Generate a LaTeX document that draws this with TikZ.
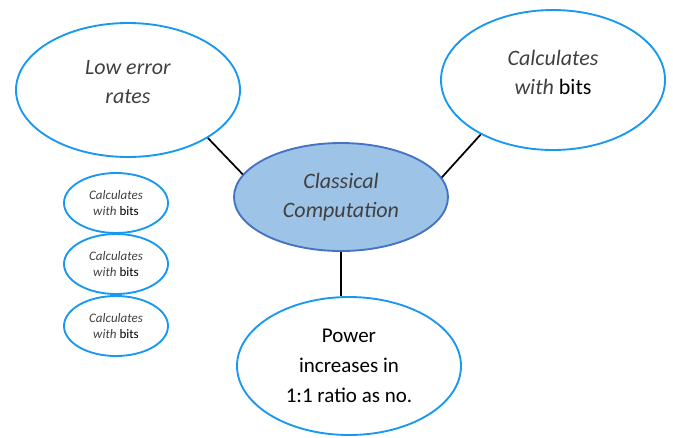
\documentclass[tikz,border=0pt]{standalone}
\usepackage{fontspec}
\setmainfont{Carlito}
\usetikzlibrary{shapes.geometric}
\definecolor{bubbleblue}{RGB}{24,152,240}
\definecolor{corefill}{RGB}{157,195,230}
\definecolor{coreline}{RGB}{68,114,196}
\definecolor{greytext}{RGB}{64,64,64}
\tikzset{
	bubble/.style={ellipse,draw=bubbleblue,line width=1.4pt,inner sep=0pt,align=center,text=greytext},
	bigtext/.style={font=\fontsize{16.5}{21.75}\selectfont},
	smalltext/.style={font=\fontsize{9.75}{12.5}\selectfont},
	link/.style={line width=1.3pt},
}
\begin{document}
\begin{tikzpicture}[x=0.75pt,y=-0.75pt]
\useasboundingbox (0,0) rectangle (673,437);
\draw (128,90)node[bubble,bigtext,text depth=12pt,minimum width=168pt,minimum height=100.5pt](low){\textit{Low error}\\\textit{rates}};
\draw (553,80)node[bubble,bigtext,text depth=12pt,minimum width=168pt,minimum height=105pt](bits){\textit{Calculates}\\\textit{with} {\color{black}bits}};
\draw (341,197)node[bubble,bigtext,draw=coreline,fill=corefill,minimum width=160.5pt,minimum height=81pt](core){\textit{Classical}\\\textit{Computation}};
\draw (349,366)node[bubble,font=\fontsize{15.75}{22.5}\selectfont,text=black,minimum width=168pt,minimum height=103.5pt](power){Power\\increases in\\1:1 ratio as no.};
\draw (116,203)node[bubble,smalltext,minimum width=78pt,minimum height=45pt](bitsa){\textit{Calculates}\\\textit{with} {\color{black}bits}};
\draw (116,264)node[bubble,smalltext,minimum width=78pt,minimum height=45pt](bitsb){\textit{Calculates}\\\textit{with} {\color{black}bits}};
\draw (116,326)node[bubble,smalltext,minimum width=78pt,minimum height=45pt](bitsc){\textit{Calculates}\\\textit{with} {\color{black}bits}};
\draw[link] (low.-31) -- (core.167);
\draw[link] (bits.-143) -- (core.11);
\draw[link] (core.south) -- (core.south |- power.north);
\end{tikzpicture}
\end{document}
